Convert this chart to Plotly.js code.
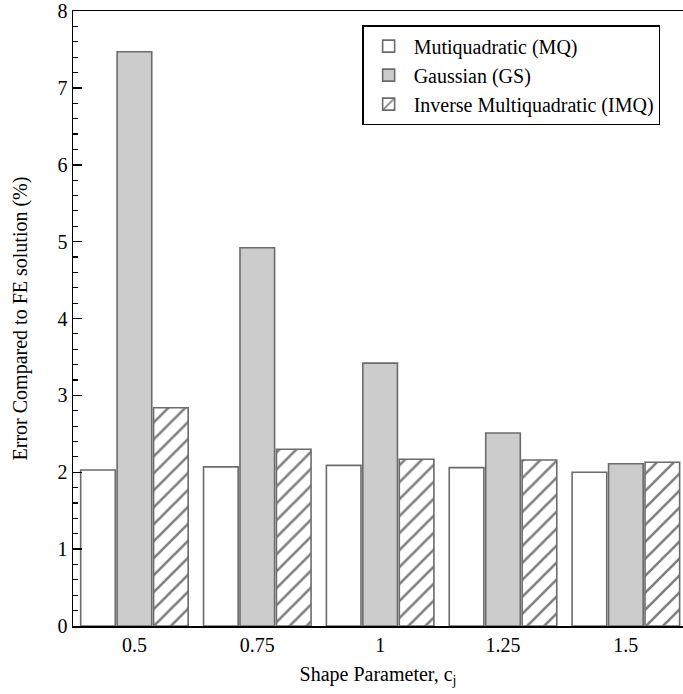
<!DOCTYPE html>
<html>
<head>
<meta charset="utf-8">
<script src="https://cdn.plot.ly/plotly-3.0.1.min.js"></script>
<style>html,body{margin:0;padding:0;overflow:hidden;background:#fff}#chart{width:683px;height:694px}</style>
</head>
<body>
<div id="chart"></div>
<script>
const categories = ['0.5', '0.75', '1', '1.25', '1.5'];
const mqValues = [2.03, 2.07, 2.09, 2.06, 2.00];
const gsValues = [7.47, 4.92, 3.42, 2.51, 2.11];
const imqValues = [2.84, 2.30, 2.17, 2.16, 2.13];
const seriesNames = ['Mutiquadratic (MQ)', 'Gaussian (GS)', 'Inverse Multiquadratic (IMQ)'];

const font = 'Liberation Serif, Times New Roman, serif';
const edge = {color: '#6b6b6b', width: 1.6};

const traces = [
  {type: 'bar', name: seriesNames[0], x: categories, y: mqValues,
   marker: {color: '#ffffff', line: edge}},
  {type: 'bar', name: seriesNames[1], x: categories, y: gsValues,
   marker: {color: '#cccccc', line: edge}},
  {type: 'bar', name: seriesNames[2], x: categories, y: imqValues,
   marker: {color: '#ffffff', line: edge,
            pattern: {shape: '/', fgcolor: '#000000', bgcolor: '#ffffff', size: 12, solidity: 0.22, fillmode: 'overlay'}}}
];

const layout = {
  width: 683, height: 694,
  margin: {l: 73, r: 0, t: 11, b: 68},
  paper_bgcolor: '#ffffff', plot_bgcolor: '#ffffff',
  font: {family: font, size: 20, color: '#000'},
  barmode: 'group', bargap: 0.11, bargroupgap: 0.05,
  showlegend: true,
  legend: {x: 0.474, y: 0.977, xanchor: 'left', yanchor: 'top',
           bordercolor: '#000', borderwidth: 1.5, bgcolor: '#fff',
           font: {family: font, size: 20}, itemwidth: 40, tracegroupgap: 0},
  xaxis: {type: 'category', range: [-0.5, 4.465],
          showline: true, linecolor: '#000', linewidth: 1.5, mirror: true,
          ticks: '', showgrid: false, zeroline: false,
          tickfont: {family: font, size: 20},
          title: {text: 'Shape Parameter, c<sub>j</sub>', font: {family: font, size: 20}, standoff: 12}},
  yaxis: {range: [0, 8], dtick: 1, tick0: 0,
          showline: true, linecolor: '#000', linewidth: 1.5, mirror: true,
          ticks: 'inside', ticklen: 9, tickwidth: 1.5, tickcolor: '#000',
          minor: {dtick: 0.2, ticks: 'inside', ticklen: 5, tickwidth: 1.2, tickcolor: '#000', showgrid: false},
          showgrid: false, zeroline: false,
          tickfont: {family: font, size: 20},
          title: {text: 'Error Compared to FE solution (%)', font: {family: font, size: 20}, standoff: 24}}
};

Plotly.newPlot('chart', traces, layout, {displayModeBar: false, staticPlot: true});
</script>
</body>
</html>
